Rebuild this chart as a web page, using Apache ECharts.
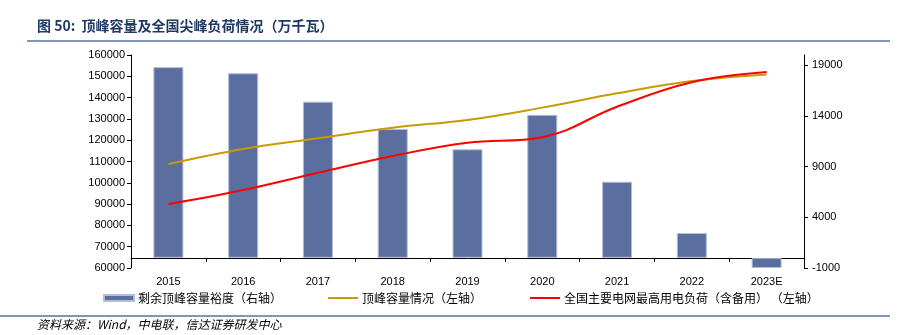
<!DOCTYPE html>
<html><head><meta charset="utf-8">
<script src="https://cdn.jsdelivr.net/npm/echarts@6/dist/echarts.min.js"></script>
<style>html,body{margin:0;padding:0;background:#fff}#c{width:914px;height:335px}</style>
</head><body><div id="c"></div>
<script>
const categories = ['2015','2016','2017','2018','2019','2020','2021','2022','2023E'];
const marginValues = [18800, 18200, 15400, 12700, 10700, 14100, 7500, 2450, -1000];
const peakCapacity = [108800, 115900, 120900, 125900, 129500, 135300, 142000, 147800, 150900];
const peakLoad = [90000, 96600, 104700, 112600, 118800, 121400, 135700, 147200, 152000];
const rightTicks = [-1000, 4000, 9000, 14000, 19000];
const seriesNames = ['剩余顶峰容量裕度（右轴）', '顶峰容量情况（左轴）', '全国主要电网最高用电负荷（含备用） （左轴）'];

const FONT = '"Liberation Sans", "Noto Sans CJK SC", sans-serif';
const CJK = '"Noto Sans CJK SC", "Liberation Sans", sans-serif';
const chart = echarts.init(document.getElementById('c'), null, {renderer: 'canvas'});
const legendBase = {top: 292, padding: 0, itemWidth: 30, itemHeight: 6, itemGap: 4,
  textStyle: {fontFamily: CJK, fontSize: 12, color: '#000', padding: [0, 0, 0, -1]}};
const plain = v => String(v);
chart.setOption({
  animation: false,
  backgroundColor: '#fff',
  grid: {left: 131, right: 110, top: 55, height: 213, containLabel: false},
  legend: [
    Object.assign({}, legendBase, {left: 103, data: [{name: seriesNames[0], icon: 'rect'}]}),
    Object.assign({}, legendBase, {left: 328, itemHeight: 2, data: [{name: seriesNames[1], icon: 'rect'}]}),
    Object.assign({}, legendBase, {left: 530, itemHeight: 2, data: [{name: seriesNames[2], icon: 'rect'}]})
  ],
  xAxis: {
    type: 'category', data: categories, boundaryGap: true,
    axisLine: {lineStyle: {color: '#000', width: 1}},
    axisTick: {show: true, alignWithLabel: false, length: 4, lineStyle: {color: '#000'}},
    axisLabel: {fontFamily: FONT, fontSize: 11, color: '#000', margin: 8}
  },
  yAxis: [
    {type: 'value', position: 'left', min: 60000, max: 160000, interval: 10000,
     axisLine: {show: true, lineStyle: {color: '#000'}},
     axisTick: {show: true, length: 4, lineStyle: {color: '#000'}},
     splitLine: {show: false},
     axisLabel: {fontFamily: FONT, fontSize: 11, color: '#000', margin: 6, formatter: plain}},
    {type: 'value', position: 'right', min: -1000, max: 20000,
     axisLine: {show: true, lineStyle: {color: '#000'}},
     axisTick: {show: true, length: 4, lineStyle: {color: '#000'}, customValues: rightTicks},
     splitLine: {show: false},
     axisLabel: {fontFamily: FONT, fontSize: 11, color: '#000', margin: 8, customValues: rightTicks, formatter: plain}}
  ],
  series: [
    {name: seriesNames[0], type: 'bar', yAxisIndex: 1, data: marginValues, barWidth: 30,
     itemStyle: {color: '#5b6ea0', borderColor: '#b3bdd6', borderWidth: 1}, z: 1},
    {name: seriesNames[1], type: 'line', yAxisIndex: 0, data: peakCapacity, smooth: 0.4,
     symbol: 'none', lineStyle: {color: '#c99a06', width: 2}, itemStyle: {color: '#c99a06'}, z: 3},
    {name: seriesNames[2], type: 'line', yAxisIndex: 0, data: peakLoad, smooth: 0.4,
     symbol: 'none', lineStyle: {color: '#ff0000', width: 2}, itemStyle: {color: '#ff0000'}, z: 4}
  ],
  graphic: [
    {type: 'text', left: 37, top: 19, style: {text: '图 50:  顶峰容量及全国尖峰负荷情况（万千瓦）',
      font: 'bold 14px ' + CJK, fill: '#1f3864'}},
    {type: 'rect', shape: {x: 27, y: 40, width: 863, height: 2}, style: {fill: '#7f96b8'}},
    {type: 'rect', shape: {x: 0, y: 315, width: 890, height: 2}, style: {fill: '#7f96b8'}},
    {type: 'text', left: 37, top: 318, style: {text: '资料来源：Wind，中电联，信达证券研发中心',
      font: 'italic 12px ' + CJK, fill: '#000'}}
  ]
});
</script></body></html>
